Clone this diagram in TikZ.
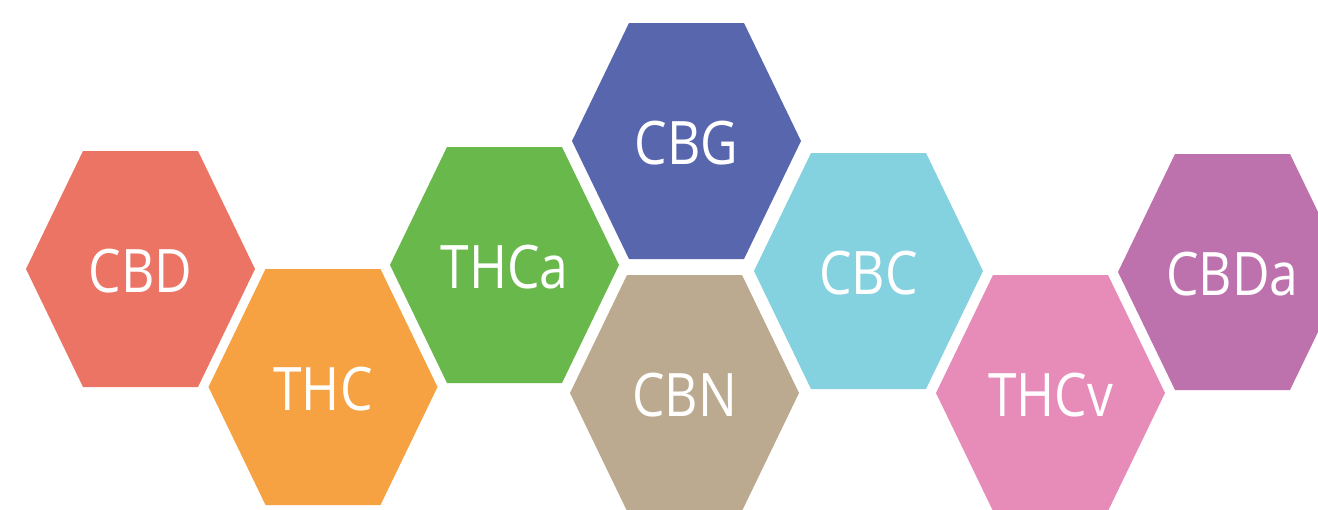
\documentclass[tikz,border=0pt]{standalone}
\usepackage{fontspec}
\setmainfont[FakeStretch=0.86]{Open Sans}
\definecolor{cCBD}{HTML}{EC7464}
\definecolor{cTHC}{HTML}{F6A242}
\definecolor{cTHCa}{HTML}{69B84C}
\definecolor{cCBG}{HTML}{5866AE}
\definecolor{cCBN}{HTML}{BBAA8F}
\definecolor{cCBC}{HTML}{84D2DF}
\definecolor{cTHCv}{HTML}{E78BB9}
\definecolor{cCBDa}{HTML}{BD72AE}
\newcommand{\hexcell}[5]{%
  \fill[#4] (#2,#3) ++(-114.5,0) -- ++(57,-118) -- ++(115,0) -- ++(57,118) -- ++(-57,118) -- ++(-115,0) -- cycle;
  \node[hexlabel] (#1) at (#2,#3+2) {#5};}
\tikzset{hexlabel/.style={text=white,font=\fontsize{60}{72}\selectfont,inner sep=0pt}}
\begin{document}
\begin{tikzpicture}[x=1pt,y=-1pt]
\useasboundingbox (0,0) rectangle (1318,509);
\clip (0,0) rectangle (1318,509);
\fill[white] (0,0) rectangle (1318,509);
\hexcell{cbd}{140.5}{269}{cCBD}{CBD}
\hexcell{thc}{323}{387}{cTHC}{THC}
\hexcell{thca}{504.5}{265}{cTHCa}{THCa}
\hexcell{cbg}{686.5}{141}{cCBG}{CBG}
\hexcell{cbn}{684.5}{393}{cCBN}{CBN}
\hexcell{cbc}{868.5}{271}{cCBC}{CBC}
\hexcell{thcv}{1050.5}{393}{cTHCv}{THCv}
\hexcell{cbda}{1232.5}{272}{cCBDa}{CBDa}
\end{tikzpicture}
\end{document}
